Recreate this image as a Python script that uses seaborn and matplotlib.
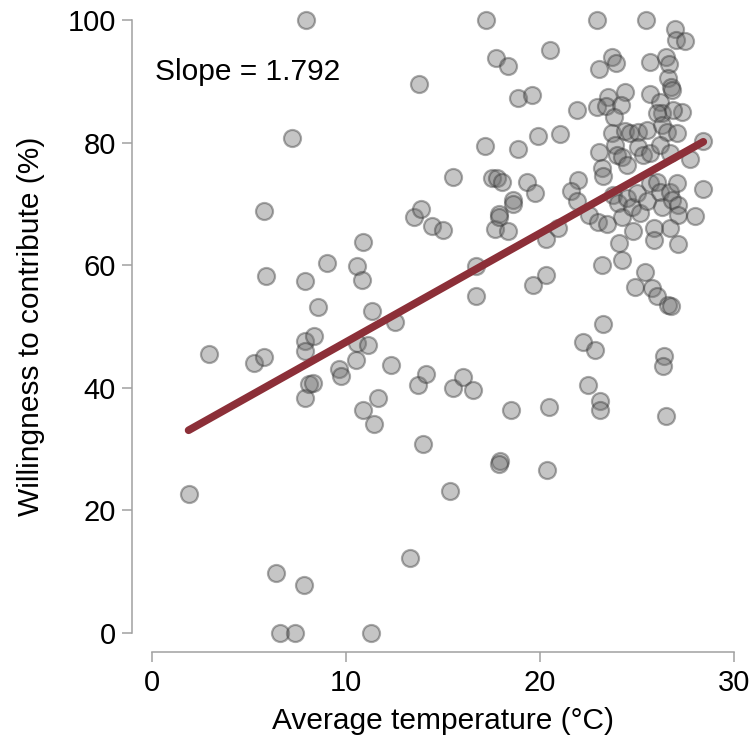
import pandas as pd
import seaborn as sns
import matplotlib
matplotlib.use('Agg')
import matplotlib.pyplot as plt

# Values (temperature in °C, willingness in %)
temperature = [
    1.89, 2.92, 5.27, 5.77, 5.79, 5.88, 6.38, 6.58, 7.36, 7.23,
    7.94, 7.87, 7.82, 7.87, 7.87, 7.87, 8.11, 8.28, 8.34, 8.54,
    9.02, 9.62, 9.76, 10.55, 11.15, 10.53, 10.58, 10.84, 10.86, 10.86,
    11.32, 11.27, 11.44, 11.65, 12.30, 12.53, 13.31, 13.50, 13.76, 13.73,
    13.95, 14.11, 13.87, 14.43, 14.98, 15.36, 15.52, 15.50, 16.03, 16.53,
    16.69, 16.70, 17.20, 17.16, 17.51, 17.68, 17.73, 17.77, 17.90, 17.90,
    17.94, 17.89, 18.06, 18.37, 18.34, 18.51, 18.62, 18.62, 18.87, 18.87,
    19.35, 19.57, 19.65, 19.73, 19.90, 20.32, 20.38, 20.46, 20.52, 20.29,
    20.91, 21.03, 21.89, 21.94, 21.61, 21.89, 22.20, 22.85, 22.49, 23.09,
    23.09, 23.26, 26.39, 26.32, 26.48, 22.94, 25.48, 26.96, 27.01, 27.46,
    23.70, 23.92, 23.04, 25.67, 26.49, 26.65, 26.61, 26.74, 26.79, 24.40,
    25.67, 23.49, 22.92, 23.39, 24.18, 23.83, 26.19, 26.27, 27.30, 26.87,
    26.02, 23.70, 24.38, 24.64, 25.07, 25.53, 26.27, 26.53, 27.05, 28.42,
    23.06, 23.87, 23.95, 24.21, 25.07, 25.32, 25.67, 26.19, 26.70, 27.73,
    23.18, 24.47, 23.26, 22.51, 23.01, 23.44, 23.78, 24.04, 24.21, 24.47,
    24.73, 24.98, 25.15, 25.50, 25.67, 26.02, 26.19, 26.27, 26.70, 26.79,
    27.05, 27.13, 27.13, 26.70, 28.42, 27.99, 24.78, 25.89, 25.88, 27.13,
    24.09, 24.21, 23.18, 25.41, 24.90, 25.76, 26.05, 26.61, 26.75,
]
willingness = [
    22.7, 45.5, 44.0, 45.0, 68.9, 58.3, 9.8, 0.0, 0.0, 80.8,
    100.0, 57.4, 7.8, 47.7, 46.0, 38.3, 40.6, 40.7, 48.4, 53.2,
    60.4, 43.1, 41.9, 47.3, 46.9, 44.5, 59.8, 57.6, 63.8, 36.3,
    52.6, 0.0, 34.1, 38.4, 43.7, 50.8, 12.2, 67.9, 89.6, 40.4,
    30.9, 42.2, 69.1, 66.4, 65.7, 23.2, 74.4, 39.9, 41.7, 39.6,
    55.0, 59.9, 100.0, 79.5, 74.3, 65.9, 93.8, 74.2, 68.3, 67.9,
    28.1, 27.6, 73.6, 65.5, 92.5, 36.4, 70.6, 70.0, 87.3, 79.0,
    73.5, 87.8, 56.7, 71.8, 81.1, 58.4, 26.6, 36.9, 95.1, 64.3,
    66.1, 81.4, 85.3, 73.9, 72.1, 70.4, 47.5, 46.2, 40.4, 37.9,
    36.3, 50.4, 45.2, 43.6, 35.4, 100.0, 100.0, 98.5, 96.7, 96.5,
    93.9, 93.0, 92.0, 93.1, 94.0, 92.8, 90.5, 89.0, 88.6, 88.3,
    87.9, 87.4, 85.8, 85.9, 86.1, 84.1, 86.7, 84.8, 85.0, 85.3,
    84.8, 81.5, 81.9, 81.6, 81.8, 82.1, 82.9, 81.8, 81.6, 80.3,
    78.5, 79.6, 78.0, 77.7, 79.3, 78.0, 78.3, 79.6, 78.3, 77.4,
    75.8, 76.3, 74.6, 68.2, 67.1, 66.8, 71.5, 70.1, 67.9, 70.9,
    69.5, 71.7, 68.5, 70.4, 73.4, 73.6, 72.0, 69.5, 72.0, 70.6,
    73.4, 69.8, 68.2, 66.0, 72.4, 68.0, 65.5, 66.0, 64.1, 63.5,
    63.6, 60.8, 60.0, 58.9, 56.5, 56.2, 54.9, 53.5, 53.3,
]
x_ticks = [0, 10, 20, 30]
y_ticks = [0, 20, 40, 60, 80, 100]
slope_label = 'Slope = 1.792'

df = pd.DataFrame({'temp': temperature, 'will': willingness})

sns.set_style('ticks')
plt.rcParams['font.family'] = ['Liberation Sans', 'DejaVu Sans']
plt.rcParams['text.color'] = 'black'
plt.rcParams['axes.labelcolor'] = 'black'

fig = plt.figure(figsize=(7.52, 7.42), dpi=100)
ax = fig.add_axes([0.202, 0.147, 0.774, 0.826])

sns.regplot(data=df, x='temp', y='will', ax=ax, ci=None,
            scatter_kws={'s': 150, 'color': '#6e6e6e', 'edgecolor': '#2e2e2e',
                         'alpha': 0.4, 'linewidths': 1.6, 'clip_on': False},
            line_kws={'color': '#8c2f38', 'lw': 5.5, 'alpha': 1})

ax.set_xlim(0, 30)
ax.set_ylim(0, 100)
ax.set_xticks(x_ticks)
ax.set_yticks(y_ticks)

ax.text(0.15, 91.5, slope_label, fontsize=21.5, ha='left', va='center')

ax.set_xlabel('Average temperature (°C)', fontsize=21.5, labelpad=7)
ax.set_ylabel('Willingness to contribute (%)', fontsize=21.5, labelpad=16)

for side in ['top', 'right']:
    ax.spines[side].set_visible(False)
for side in ['left', 'bottom']:
    ax.spines[side].set_position(('outward', 14))
    ax.spines[side].set_color('#a0a0a0')
    ax.spines[side].set_linewidth(1.1)
ax.tick_params(axis='both', labelsize=21, length=7, width=1.1,
               color='#a0a0a0', labelcolor='black', pad=5)

fig.savefig('out.png', dpi=100)
